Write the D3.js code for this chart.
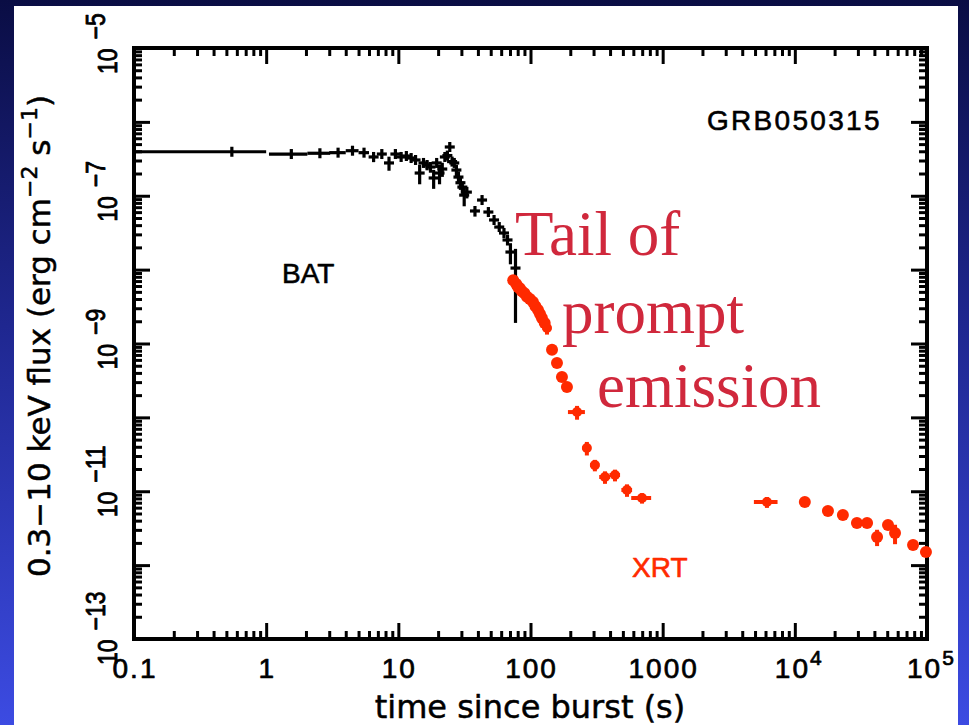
<!DOCTYPE html>
<html>
<head>
<meta charset="utf-8">
<script src="https://cdn.jsdelivr.net/npm/d3@7"></script>
<style>
  html, body { margin: 0; padding: 0; background: #0b0f48; overflow: hidden; }
  svg { display: block; }
</style>
</head>
<body>
<svg id="chart" width="969" height="725"></svg>
<script>
// GRB 050315: BAT (extrapolated) and XRT 0.3-10 keV light curve

// BAT points: bin centre (s), half bin width (s), flux, 1-sigma flux error
const batTime = [0.55, 1.55, 2.55, 3.5, 4.5, 5.5, 6.5, 7.5, 8.5, 9.5,
  10.5, 11.5, 12.5, 13.5, 14.5, 15.5, 16.5, 17.5, 18.5, 19.5, 20.5, 21.5,
  22.5, 23.5, 24.5, 25.5, 26.5, 27.5, 28.5, 29.5, 30.5, 31.5, 33,
  38, 43, 48, 53, 58, 63, 67, 70.5, 77];
const batHalfBin = [0.45, 0.5, 0.5, 0.5, 0.5, 0.5, 0.5, 0.5, 0.5, 0.5,
  0.5, 0.5, 0.5, 0.5, 0.5, 0.5, 0.5, 0.5, 0.5, 0.5, 0.5, 0.5,
  0.5, 0.5, 0.5, 0.5, 0.5, 0.5, 0.5, 0.5, 0.5, 0.5, 1.0,
  2.5, 2.5, 2.5, 2.5, 2.5, 2.5, 1.5, 1.5, 6];
const batFlux = [3.94e-7, 3.67e-7, 3.76e-7, 3.83e-7, 4.07e-7, 3.83e-7, 3.35e-7, 3.67e-7, 2.78e-7, 3.67e-7,
  3.35e-7, 3.45e-7, 3.24e-7, 3.05e-7, 2.03e-7, 2.78e-7, 2.61e-7, 2.45e-7, 1.74e-7, 2.78e-7, 2.03e-7, 2.3e-7,
  3.35e-7, 3.5e-7, 4.57e-7, 2.9e-7, 2.78e-7, 2.23e-7, 1.79e-7, 1.5e-7, 1.31e-7, 1.02e-7, 1.12e-7,
  6.22e-8, 8.75e-8, 6.02e-8, 4.7e-8, 3.77e-8, 3.13e-8, 2.52e-8, 1.73e-8, 1.05e-8];
const batErr = [4e-8, 4e-8, 4e-8, 4e-8, 4e-8, 4e-8, 5e-8, 4e-8, 6e-8, 4e-8,
  4e-8, 4e-8, 4e-8, 4e-8, 6e-8, 4e-8, 4e-8, 4e-8, 5e-8, 4e-8, 6e-8, 5e-8,
  4e-8, 4e-8, 4e-8, 4e-8, 4e-8, 4e-8, 3.5e-8, 3e-8, 2.5e-8, 3e-8, 2e-8,
  1e-8, 1e-8, 8e-9, 6e-9, 5e-9, 4.5e-9, 4e-9, 5.5e-9, 8.6e-9];

// XRT points: time (s), flux, time half-width (s), flux error
const xrtTime = [74, 78, 80.4, 83, 86.2, 90, 94, 99, 104.4, 109, 114, 118, 122, 128, 133.3,
  145.5, 158.6, 173, 188.7, 225, 267, 307, 366, 436, 537, 698,
  6150, 11900, 17800, 23100, 29500, 35200, 41900, 50700, 57300, 78400, 98200];
const xrtFlux = [7.2e-9, 6.4e-9, 5.8e-9, 5.6e-9, 5.1e-9, 4.8e-9, 4.3e-9, 4.0e-9, 3.65e-9, 3.2e-9, 2.84e-9, 2.5e-9, 2.21e-9, 1.9e-9, 1.62e-9,
  8.2e-10, 5.45e-10, 3.52e-10, 2.58e-10, 1.18e-10, 3.85e-11, 2.26e-11, 1.56e-11, 1.66e-11, 1.04e-11, 8.1e-12,
  7.15e-12, 7.15e-12, 5.41e-12, 4.78e-12, 3.72e-12, 3.72e-12, 2.41e-12, 3.49e-12, 2.72e-12, 1.87e-12, 1.51e-12];
const xrtTimeErr = [0, 0, 0, 0, 0, 0, 0, 0, 0, 0, 0, 0, 0, 0, 10,
  0, 0, 0, 0, 33, 20, 25, 35, 40, 50, 120,
  1250, 0, 0, 0, 0, 0, 0, 0, 0, 0, 0];
const xrtFluxErr = [0, 0, 0, 0, 0, 0, 0, 0, 0, 0, 0, 0, 0, 0, 3e-10,
  0, 0, 0, 0, 2.5e-11, 8e-12, 4e-12, 3e-12, 3e-12, 2e-12, 1.3e-12,
  1.2e-12, 0, 0, 0, 0, 0, 0.6e-12, 0, 0.8e-12, 0, 0];

// Axis ticks
const xMajor = [0.1, 1, 10, 100, 1000, 1e4, 1e5];
const xLabels = ["0.1", "1", "10", "100", "1000", "10|4", "10|5"];
const yMajor = [1e-13, 1e-12, 1e-11, 1e-10, 1e-9, 1e-8, 1e-7, 1e-6, 1e-5];
const yLabelExp = [-13, -11, -9, -7, -5];
const minorMult = [2, 3, 4, 5, 6, 7, 8, 9];

const W = 969, H = 725;
const svg = d3.select("#chart");

// backdrop
const defs = svg.append("defs");
const bg = defs.append("linearGradient").attr("id", "bg")
  .attr("x1", 0).attr("y1", 0).attr("x2", 0).attr("y2", 1);
bg.append("stop").attr("offset", 0).attr("stop-color", "#0a0d44");
bg.append("stop").attr("offset", 0.45).attr("stop-color", "#1f2790");
bg.append("stop").attr("offset", 1).attr("stop-color", "#3c4be2");
svg.append("rect").attr("width", W).attr("height", H).attr("fill", "url(#bg)");
svg.append("rect").attr("x", 14).attr("y", 6).attr("width", 944).attr("height", H - 6).attr("fill", "#ffffff");

const x = d3.scaleLog().domain([0.1, 1e5]).range([134, 927]);
const y = d3.scaleLog().domain([1e-13, 1e-5]).range([639, 48]);

const xMinor = [];
xMajor.slice(0, -1).forEach(d => minorMult.forEach(k => xMinor.push(d * k)));
const yMinor = [];
yMajor.slice(0, -1).forEach(d => minorMult.forEach(k => yMinor.push(d * k)));

// inward ticks on all four sides
function drawAxis(gen, tx, ty, vals, size) {
  const g = svg.append("g").attr("transform", `translate(${tx},${ty})`)
    .call(gen.tickValues(vals).tickSize(-size).tickFormat(""));
  g.select(".domain").remove();
  g.selectAll(".tick line").attr("stroke", "#000").attr("stroke-width", 3);
}
drawAxis(d3.axisBottom(x), 0, 639, xMajor, 16);
drawAxis(d3.axisBottom(x), 0, 639, xMinor, 8);
drawAxis(d3.axisTop(x), 0, 48, xMajor, 16);
drawAxis(d3.axisTop(x), 0, 48, xMinor, 8);
drawAxis(d3.axisLeft(y), 134, 0, yMajor, 16);
drawAxis(d3.axisLeft(y), 134, 0, yMinor, 8);
drawAxis(d3.axisRight(y), 927, 0, yMajor, 16);
drawAxis(d3.axisRight(y), 927, 0, yMinor, 8);

svg.append("rect").attr("x", 134).attr("y", 48).attr("width", 927 - 134).attr("height", 639 - 48)
  .attr("fill", "none").attr("stroke", "#000").attr("stroke-width", 4);

// plot text is drawn with a light outline so the strokes read heavier
const sans = "'Liberation Sans', Arial, Helvetica, sans-serif";
function heavy(sel, colour, w) {
  return sel.attr("fill", colour).attr("stroke", colour).attr("stroke-width", w)
    .attr("stroke-linejoin", "round");
}

// x tick labels
xMajor.forEach((v, i) => {
  const parts = xLabels[i].split("|");
  const t = heavy(svg.append("text"), "#000", 0.7).attr("font-family", sans).attr("font-size", 28)
    .attr("letter-spacing", 2).attr("y", 678);
  if (parts.length === 1) {
    t.attr("x", x(v) + 1).attr("text-anchor", "middle").text(parts[0]);
  } else {
    t.attr("x", x(v) - 20).attr("text-anchor", "start");
    t.append("tspan").text(parts[0]);
    t.append("tspan").attr("dy", -13).attr("font-size", 21).text(parts[1]);
  }
});

// y tick labels, written upward
yLabelExp.forEach(e => {
  const g = svg.append("g")
    .attr("transform", `translate(117,${y(Math.pow(10, e))}) scale(1.22,1) rotate(-90)`);
  const t = heavy(g.append("text"), "#000", 0.7).attr("font-family", sans).attr("font-size", 23)
    .attr("x", -26).attr("y", 0);
  t.append("tspan").text("10");
  t.append("tspan").attr("dx", 9).attr("dy", -10).attr("font-size", 23).text("\u2212" + Math.abs(e));
});

// axis titles
const dejavu = "'DejaVu Sans', Verdana, sans-serif";
heavy(svg.append("text"), "#000", 0.5).attr("font-family", dejavu).attr("font-size", 32)
  .attr("x", 530).attr("y", 718).attr("text-anchor", "middle").text("time since burst (s)");

const yt = heavy(svg.append("text"), "#000", 0.5).attr("font-family", dejavu).attr("font-size", 31)
  .attr("text-anchor", "middle").attr("transform", "translate(50,336) rotate(-90)");
yt.append("tspan").text("0.3\u221210 keV flux (erg cm");
yt.append("tspan").attr("dy", -13).attr("font-size", 22).text("\u22122");
yt.append("tspan").attr("dy", 13).text(" s");
yt.append("tspan").attr("dy", -13).attr("font-size", 22).text("\u22121");
yt.append("tspan").attr("dy", 13).text(")");

// BAT: "+" symbol with time-bin and flux error bars
const plusArm = 5;
const bat = batTime.map((t, i) => ({t, hb: batHalfBin[i], f: batFlux[i], e: batErr[i]}));
const gb = svg.append("g").attr("stroke", "#000").attr("stroke-width", 3.2);
gb.selectAll("line.h").data(bat).join("line").attr("class", "h")
  .attr("x1", d => Math.min(x(Math.max(0.1, d.t - d.hb)), x(d.t) - plusArm))
  .attr("x2", d => Math.max(x(d.t + d.hb), x(d.t) + plusArm))
  .attr("y1", d => y(d.f)).attr("y2", d => y(d.f));
gb.selectAll("line.v").data(bat).join("line").attr("class", "v")
  .attr("x1", d => x(d.t)).attr("x2", d => x(d.t))
  .attr("y1", d => Math.min(y(d.f + d.e), y(d.f) - plusArm))
  .attr("y2", d => Math.max(y(Math.max(1e-13, d.f - d.e)), y(d.f) + plusArm));

// XRT points
const red = "#ff2a00";
const xrt = xrtTime.map((t, i) => ({t, f: xrtFlux[i], te: xrtTimeErr[i], fe: xrtFluxErr[i]}));
const gx = svg.append("g");
gx.selectAll("line.h").data(xrt.filter(d => d.te > 0)).join("line").attr("class", "h")
  .attr("stroke", red).attr("stroke-width", 4)
  .attr("x1", d => x(d.t - d.te)).attr("x2", d => x(d.t + d.te))
  .attr("y1", d => y(d.f)).attr("y2", d => y(d.f));
gx.selectAll("line.v").data(xrt.filter(d => d.fe > 0)).join("line").attr("class", "v")
  .attr("stroke", red).attr("stroke-width", 4)
  .attr("x1", d => x(d.t)).attr("x2", d => x(d.t))
  .attr("y1", d => y(d.f + d.fe)).attr("y2", d => y(d.f - d.fe));
gx.selectAll("circle").data(xrt).join("circle")
  .attr("cx", d => x(d.t)).attr("cy", d => y(d.f))
  .attr("r", d => (d.te > 0 ? 5 : 6)).attr("fill", red);

// panel labels
heavy(svg.append("text"), "#000", 0.6).attr("font-family", sans).attr("font-size", 28)
  .attr("letter-spacing", 2.3).attr("x", 707).attr("y", 130).text("GRB050315");
heavy(svg.append("text"), "#000", 0.6).attr("font-family", sans).attr("font-size", 28)
  .attr("x", 282).attr("y", 283).text("BAT");
heavy(svg.append("text"), red, 0.6).attr("font-family", sans).attr("font-size", 28)
  .attr("x", 632).attr("y", 577).text("XRT");

// annotation
const serif = "'Liberation Serif', 'Times New Roman', Times, serif";
const note = [["Tail of", 515, 255], ["prompt", 562, 333], ["emission", 597, 407]];
note.forEach(([s, nx, ny]) => {
  svg.append("text").attr("font-family", serif).attr("font-size", 63)
    .attr("fill", "#d0283c").attr("x", nx).attr("y", ny).text(s);
});
</script>
</body>
</html>
